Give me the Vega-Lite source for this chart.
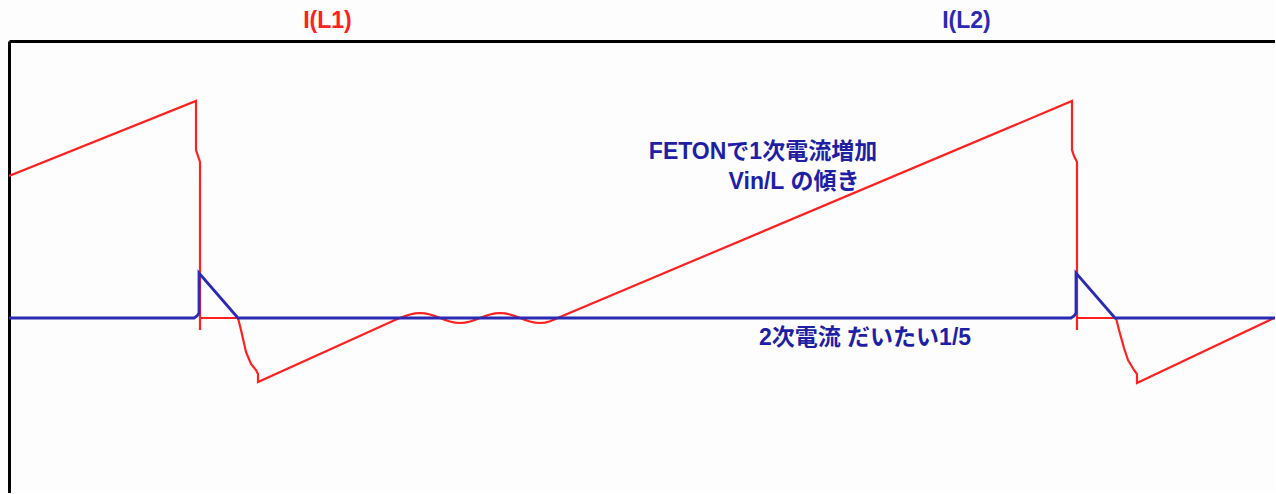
{
  "$schema": "https://vega.github.io/schema/vega-lite/v6.json",
  "usermeta": {"embedOptions": {"actions": false}},
  "width": 1266,
  "height": 452,
  "autosize": {"type": "none"},
  "padding": {"left": 9, "top": 41, "right": 0, "bottom": 0},
  "background": "#fdfdfd",
  "config": {"view": {"stroke": null}},
  "datasets": {
    "traces": [
      {"s": "L1", "i": 1, "t": 9, "v": 142},
      {"s": "L1", "i": 2, "t": 196, "v": 217},
      {"s": "L1", "i": 3, "t": 196, "v": 168},
      {"s": "L1", "i": 4, "t": 198, "v": 162},
      {"s": "L1", "i": 5, "t": 200, "v": 156},
      {"s": "L1", "i": 6, "t": 200, "v": -12},
      {"s": "L1", "i": 7, "t": 200, "v": 0},
      {"s": "L1", "i": 8, "t": 238, "v": 0},
      {"s": "L1", "i": 9, "t": 241, "v": -12},
      {"s": "L1", "i": 10, "t": 246, "v": -34},
      {"s": "L1", "i": 11, "t": 251, "v": -46},
      {"s": "L1", "i": 12, "t": 256, "v": -52},
      {"s": "L1", "i": 13, "t": 258, "v": -56},
      {"s": "L1", "i": 14, "t": 258, "v": -64},
      {"s": "L1", "i": 15, "t": 395, "v": -2},
      {"s": "L1", "i": 16, "t": 400, "v": 0},
      {"s": "L1", "i": 17, "t": 405, "v": 1.9},
      {"s": "L1", "i": 18, "t": 410, "v": 3.5},
      {"s": "L1", "i": 19, "t": 415, "v": 4.6},
      {"s": "L1", "i": 20, "t": 420, "v": 5},
      {"s": "L1", "i": 21, "t": 425, "v": 4.6},
      {"s": "L1", "i": 22, "t": 430, "v": 3.5},
      {"s": "L1", "i": 23, "t": 435, "v": 1.9},
      {"s": "L1", "i": 24, "t": 440, "v": 0},
      {"s": "L1", "i": 25, "t": 445, "v": -1.9},
      {"s": "L1", "i": 26, "t": 450, "v": -3.5},
      {"s": "L1", "i": 27, "t": 455, "v": -4.6},
      {"s": "L1", "i": 28, "t": 460, "v": -5},
      {"s": "L1", "i": 29, "t": 465, "v": -4.6},
      {"s": "L1", "i": 30, "t": 470, "v": -3.5},
      {"s": "L1", "i": 31, "t": 475, "v": -1.9},
      {"s": "L1", "i": 32, "t": 480, "v": 0},
      {"s": "L1", "i": 33, "t": 485, "v": 1.9},
      {"s": "L1", "i": 34, "t": 490, "v": 3.5},
      {"s": "L1", "i": 35, "t": 495, "v": 4.6},
      {"s": "L1", "i": 36, "t": 500, "v": 5},
      {"s": "L1", "i": 37, "t": 505, "v": 4.6},
      {"s": "L1", "i": 38, "t": 510, "v": 3.5},
      {"s": "L1", "i": 39, "t": 515, "v": 1.9},
      {"s": "L1", "i": 40, "t": 520, "v": 0},
      {"s": "L1", "i": 41, "t": 525, "v": -1.9},
      {"s": "L1", "i": 42, "t": 530, "v": -3.5},
      {"s": "L1", "i": 43, "t": 535, "v": -4.6},
      {"s": "L1", "i": 44, "t": 540, "v": -5},
      {"s": "L1", "i": 45, "t": 545, "v": -4.6},
      {"s": "L1", "i": 46, "t": 550, "v": -3.2},
      {"s": "L1", "i": 47, "t": 555, "v": -1.2},
      {"s": "L1", "i": 48, "t": 560, "v": 1},
      {"s": "L1", "i": 49, "t": 1072, "v": 217},
      {"s": "L1", "i": 50, "t": 1072, "v": 168},
      {"s": "L1", "i": 51, "t": 1074, "v": 162},
      {"s": "L1", "i": 52, "t": 1077, "v": 156},
      {"s": "L1", "i": 53, "t": 1077, "v": -12},
      {"s": "L1", "i": 54, "t": 1077, "v": 0},
      {"s": "L1", "i": 55, "t": 1116, "v": 0},
      {"s": "L1", "i": 56, "t": 1119, "v": -12},
      {"s": "L1", "i": 57, "t": 1124, "v": -30},
      {"s": "L1", "i": 58, "t": 1128, "v": -42},
      {"s": "L1", "i": 59, "t": 1134, "v": -52},
      {"s": "L1", "i": 60, "t": 1137, "v": -56},
      {"s": "L1", "i": 61, "t": 1137, "v": -65},
      {"s": "L1", "i": 62, "t": 1275, "v": 0.5},
      {"s": "L2", "i": 1, "t": 9, "v": 0},
      {"s": "L2", "i": 2, "t": 194, "v": 0},
      {"s": "L2", "i": 3, "t": 197, "v": 2},
      {"s": "L2", "i": 4, "t": 199, "v": 5},
      {"s": "L2", "i": 5, "t": 199, "v": 45},
      {"s": "L2", "i": 6, "t": 238, "v": 0},
      {"s": "L2", "i": 7, "t": 1071, "v": 0},
      {"s": "L2", "i": 8, "t": 1074, "v": 2},
      {"s": "L2", "i": 9, "t": 1076, "v": 5},
      {"s": "L2", "i": 10, "t": 1076, "v": 45},
      {"s": "L2", "i": 11, "t": 1115, "v": 0},
      {"s": "L2", "i": 12, "t": 1275, "v": 0}
    ],
    "titles": [
      {"s": "L1", "t": 327.5, "v": 297, "label": "I(L1)"},
      {"s": "L2", "t": 966.5, "v": 297, "label": "I(L2)"}
    ],
    "notes": [
      {"t": 763, "v": 166, "label": "FETONで1次電流増加"},
      {"t": 794, "v": 136, "label": "Vin/L の傾き"},
      {"t": 865, "v": -20, "label": "2次電流 だいたい1/5"}
    ]
  },
  "layer": [
    {
      "data": {"name": "traces"},
      "mark": {"type": "line", "clip": true},
      "encoding": {
        "x": {
          "field": "t", "type": "quantitative",
          "scale": {"domain": [9, 1275], "nice": false, "zero": false},
          "axis": {"orient": "top", "title": null, "labels": false, "ticks": false, "grid": false, "domain": true, "domainColor": "#000000", "domainWidth": 3}
        },
        "y": {
          "field": "v", "type": "quantitative",
          "scale": {"domain": [-175, 277], "nice": false, "zero": false},
          "axis": {"orient": "left", "title": null, "labels": false, "ticks": false, "grid": false, "domain": true, "domainColor": "#000000", "domainWidth": 3}
        },
        "color": {
          "field": "s", "type": "nominal",
          "scale": {"domain": ["L1", "L2"], "range": ["#ff2020", "#2a2ab4"]},
          "legend": null
        },
        "order": {"field": "i", "type": "quantitative"},
        "strokeWidth": {
          "field": "s", "type": "nominal",
          "scale": {"domain": ["L1", "L2"], "range": [2.2, 2.8]},
          "legend": null
        }
      }
    },
    {
      "data": {"name": "titles"},
      "mark": {"type": "text", "font": "Liberation Sans, Noto Sans CJK JP", "fontWeight": "bold", "fontSize": 23, "align": "center", "baseline": "middle", "clip": false},
      "encoding": {
        "x": {"field": "t", "type": "quantitative"},
        "y": {"field": "v", "type": "quantitative"},
        "text": {"field": "label"},
        "color": {"field": "s", "type": "nominal", "legend": null}
      }
    },
    {
      "data": {"name": "notes"},
      "mark": {"type": "text", "font": "Liberation Sans, Noto Sans CJK JP", "fontWeight": "bold", "fontSize": 23, "align": "center", "baseline": "middle", "color": "#1f1fa6", "clip": false},
      "encoding": {
        "x": {"field": "t", "type": "quantitative"},
        "y": {"field": "v", "type": "quantitative"},
        "text": {"field": "label"}
      }
    }
  ]
}
